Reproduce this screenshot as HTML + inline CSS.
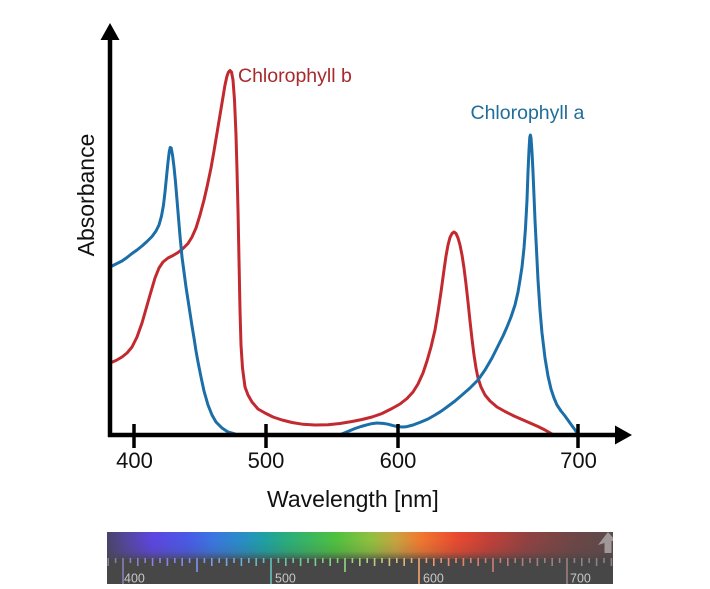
<!DOCTYPE html>
<html>
<head>
<meta charset="utf-8">
<style>
  html,body{margin:0;padding:0;background:#fff;}
  svg{display:block;}
  text{font-family:"Liberation Sans", Arial, sans-serif;}
</style>
</head>
<body>
<svg width="710" height="589" viewBox="0 0 710 589" xmlns="http://www.w3.org/2000/svg">
  <defs>
    <linearGradient id="spec" gradientUnits="userSpaceOnUse" x1="107" y1="0" x2="613" y2="0">
      <stop offset="0" stop-color="#4a4468"/>
      <stop offset="0.04" stop-color="#5546a0"/>
      <stop offset="0.09" stop-color="#5c46e0"/>
      <stop offset="0.16" stop-color="#4a5ae6"/>
      <stop offset="0.21" stop-color="#3a76e0"/>
      <stop offset="0.27" stop-color="#288fc4"/>
      <stop offset="0.31" stop-color="#1fa0a4"/>
      <stop offset="0.36" stop-color="#2cae78"/>
      <stop offset="0.45" stop-color="#4ec040"/>
      <stop offset="0.52" stop-color="#8ec040"/>
      <stop offset="0.57" stop-color="#c8a440"/>
      <stop offset="0.62" stop-color="#f07830"/>
      <stop offset="0.69" stop-color="#e84a30"/>
      <stop offset="0.75" stop-color="#c44038"/>
      <stop offset="0.83" stop-color="#904242"/>
      <stop offset="0.92" stop-color="#6e4646"/>
      <stop offset="1" stop-color="#5c4a4a"/>
    </linearGradient>
    <linearGradient id="fade" x1="0" y1="0" x2="0" y2="1">
      <stop offset="0" stop-color="#474747" stop-opacity="0"/>
      <stop offset="0.6" stop-color="#474747" stop-opacity="0.15"/>
      <stop offset="1" stop-color="#474747" stop-opacity="0.7"/>
    </linearGradient>
    <clipPath id="barclip"><rect x="107" y="532" width="506" height="52"/></clipPath>
  </defs>

  <!-- Curves -->
  <g fill="none" stroke-width="3" stroke-linejoin="round" stroke-linecap="round">
    <polyline stroke="#c22a2f" points="110,363 116,360.5 122,357 127,353 132,347 137,337 142,323 146,309 150,295 155,278 159,268 163,262 168,258 173,255.5 178,252.5 183,248.5 188,243.5 192,237 196,228 200,215 204,200 207,187 211,168 214,151 217,133 220,115 223,97 225,85 227,76 228.5,72 230,70.5 231.5,72 233,80 234.5,100 236,135 237,170 238,210 239,260 240,310 241,345 242.5,368 245,387 248,395 252,402 258,409 265,413 273,417 282,420 292,422.5 303,424.3 315,425 328,424.7 340,423.5 352,421.5 362,419.5 372,417 382,413.5 392,408.5 400,404 407,398.5 413,392 418,384 423,373 427,361 431,347 435,330 438,312 441,292 444,270 446,256 448,245 450,237.5 452,233.5 454,232 456,233.5 458,238 460,245 462,255 464,268 466,284 468,302 470,321 472,339 474,355 476,368 478,378 481,387 485,395 490,401 497,407 505,411.5 514,416 522,419.5 530,423 538,426.5 545,430 552,434"/>
    <polyline stroke="#1b6ea8" points="110,267 116,264 122,261 127,257.5 132,253.5 137,250 142,246 147,241.5 152,236.5 156,231 159,225 161.5,216 163.5,205 165,192 166.5,177 168,162 169.2,152 170.2,147.5 171.2,148 172.5,155 174,167 175.5,182 177,200 178.5,218 180,236 182,257 184,272 186,287 188,300 190,313 192,326 194,338 196,351 198,362 201,377 204,391 208,405 212,415 216,422 222,428 228,432 235,434"/>
    <polyline stroke="#1b6ea8" points="340,435 343,433.5 349,431 355,428.5 361,426.5 367,424.8 372,423.6 377,423 383,423.4 388,424.2 393,425.6 398,426.8 403,427 407,426.6 413,425 420,422.4 428,419 435,415 441,411.3 447,407 455,401 462,395 470,388 478,380 485,370 492,358 498,346 503,336 507,327 511,317 515,305 518,292 520,280 522,267 524,248 525.5,228 527,200 528,172 529,150 529.8,137 530.4,135 531,138 532,152 533,172 534,196 535,220 536.5,250 538,280 540,310 542,333 545,358 548,376 551,389 554,398 557,405 561,411 565,416 570,423 574,428.5 578,434"/>
  </g>

  <!-- Axes -->
  <g stroke="#000" stroke-width="4.5" fill="none">
    <line x1="110" y1="36" x2="110" y2="437"/>
    <line x1="108" y1="435" x2="618" y2="435"/>
  </g>
  <g stroke="#000" stroke-width="3.5">
    <line x1="134" y1="424" x2="134" y2="448"/>
    <line x1="266" y1="424" x2="266" y2="448"/>
    <line x1="398" y1="424" x2="398" y2="448"/>
    <line x1="578" y1="424" x2="578" y2="448"/>
  </g>
  <polygon points="110,23 100.5,40 119.5,40" fill="#000"/>
  <polygon points="632,435 615,425.5 615,444.5" fill="#000"/>

  <!-- Tick labels -->
  <g font-size="22" fill="#111" text-anchor="middle">
    <text x="134.5" y="468">400</text>
    <text x="266" y="468">500</text>
    <text x="398" y="468">600</text>
    <text x="578.5" y="468">700</text>
  </g>
  <text x="267" y="507" font-size="23" fill="#111">Wavelength [nm]</text>
  <text transform="translate(94,195) rotate(-90)" text-anchor="middle" font-size="23" fill="#111">Absorbance</text>

  <!-- Series labels -->
  <text x="238" y="82" font-size="19.5" fill="#a82a2c">Chlorophyll b</text>
  <text x="470.5" y="119" font-size="19.5" fill="#1e6e98">Chlorophyll a</text>

  <!-- Spectrum bar -->
  <g clip-path="url(#barclip)">
    <rect x="107" y="532" width="506" height="52" fill="#474747"/>
    <rect x="107" y="532" width="506" height="27" fill="url(#spec)"/>
    <rect x="107" y="540" width="506" height="19" fill="url(#fade)"/>
    <g id="ticks" stroke="url(#spec)" stroke-width="1.6">
      <path d="M115.6 558v5M130.4 558v5M145.2 558v5M160 558v5M174.8 558v5M189.6 558v5M204.4 558v5M219.2 558v5M234 558v5M248.8 558v5M263.6 558v5M278.4 558v5M293.2 558v5M308 558v5M322.8 558v5M337.6 558v5M352.4 558v5M367.2 558v5M382 558v5M396.8 558v5M411.6 558v5M426.4 558v5M441.2 558v5M456 558v5M470.8 558v5M485.6 558v5M500.4 558v5M515.2 558v5M530 558v5M544.8 558v5M559.6 558v5M574.4 558v5M589.2 558v5M604 558v5"/>
      <path d="M108.2 558v8M137.8 558v8M152.6 558v8M167.4 558v8M182.2 558v8M211.8 558v8M226.6 558v8M241.4 558v8M256.2 558v8M285.8 558v8M300.6 558v8M315.4 558v8M330.2 558v8M359.8 558v8M374.6 558v8M389.4 558v8M404.2 558v8M433.8 558v8M448.6 558v8M463.4 558v8M478.2 558v8M507.8 558v8M522.6 558v8M537.4 558v8M552.2 558v8M581.8 558v8M596.6 558v8M611.4 558v8"/>
      <path d="M197 558v14M345 558v14M493 558v14"/>
      <path d="M123 558v26M271 558v26M419 558v26M567 558v26"/>
    </g>
    <g stroke="#ffffff" stroke-width="1.6" opacity="0.3">
      <path d="M115.6 558v5M130.4 558v5M145.2 558v5M160 558v5M174.8 558v5M189.6 558v5M204.4 558v5M219.2 558v5M234 558v5M248.8 558v5M263.6 558v5M278.4 558v5M293.2 558v5M308 558v5M322.8 558v5M337.6 558v5M352.4 558v5M367.2 558v5M382 558v5M396.8 558v5M411.6 558v5M426.4 558v5M441.2 558v5M456 558v5M470.8 558v5M485.6 558v5M500.4 558v5M515.2 558v5M530 558v5M544.8 558v5M559.6 558v5M574.4 558v5M589.2 558v5M604 558v5"/>
      <path d="M108.2 558v8M137.8 558v8M152.6 558v8M167.4 558v8M182.2 558v8M211.8 558v8M226.6 558v8M241.4 558v8M256.2 558v8M285.8 558v8M300.6 558v8M315.4 558v8M330.2 558v8M359.8 558v8M374.6 558v8M389.4 558v8M404.2 558v8M433.8 558v8M448.6 558v8M463.4 558v8M478.2 558v8M507.8 558v8M522.6 558v8M537.4 558v8M552.2 558v8M581.8 558v8M596.6 558v8M611.4 558v8"/>
      <path d="M197 558v14M345 558v14M493 558v14"/>
      <path d="M123 558v26M271 558v26M419 558v26M567 558v26"/>
    </g>
    <polygon points="608,532 616,541 611.5,541 611.5,553 604.5,553 604.5,543 598,545" fill="#a09898"/>
  </g>
  <g font-size="12.5" fill="#c8c8c8">
    <text x="124" y="582.5">400</text>
    <text x="275" y="582.5">500</text>
    <text x="423" y="582.5">600</text>
    <text x="570" y="582.5">700</text>
  </g>
</svg>
</body>
</html>
